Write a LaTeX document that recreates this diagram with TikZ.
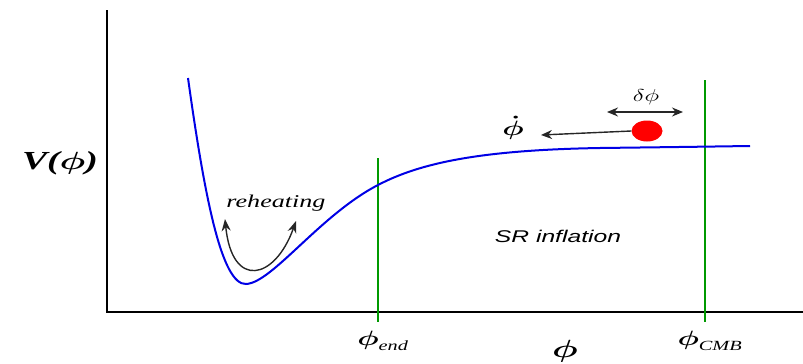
\documentclass[tikz,border=0pt]{standalone}
\usepackage{amsmath}
\usepackage{graphicx}
\usepackage{fontspec}
\setmainfont{Liberation Serif}
\newfontfamily\lsans{Liberation Sans}
\usetikzlibrary{arrows.meta,shapes.geometric}
\newcommand{\wide}[1]{\scalebox{1.45}[1]{#1}}
\begin{document}
\begin{tikzpicture}[x=1pt,y=-1pt,
  axis/.style={line width=2.6pt,black},
  gline/.style={line width=1.7pt,green!60!black},
  pot/.style={line width=2pt,blue!90!black},
  arr/.style={line width=1.4pt,black!85,-{Stealth[length=11pt,width=9pt]}},
  darr/.style={line width=1.4pt,black!85,{Stealth[length=11pt,width=9pt]}-{Stealth[length=11pt,width=9pt]}},
  lbl/.style={inner sep=0pt}]
\useasboundingbox (0,0) rectangle (803,364);
% axes
\coordinate (otop) at (107,10);
\coordinate (o) at (107,312);
\coordinate (xend) at (803,312);
\draw[axis] (otop) -- (o) -- (xend);
% green lines
\coordinate (e1) at (378,158);
\coordinate (e2) at (378,322);
\coordinate (c1) at (705,80);
\coordinate (c2) at (705,322);
\draw[gline] (e1) -- (e2);
\draw[gline] (c1) -- (c2);
% potential
\draw[pot] (188,78) .. controls (205,200) and (222,285) .. (246,284)
  .. controls (272,283) and (320,215) .. (378,185)
  .. controls (420,163) and (480,150) .. (600,148)
  .. controls (680,147) .. (750,146);
% ball
\node[ellipse,fill=red,minimum width=31pt,minimum height=21pt,inner sep=0pt] (ball) at (647,131) {};
\coordinate (dotend) at (541,135);
\draw[arr] (ball.west) -- (dotend);
\node[lbl] (phidot) at (513,128) {\wide{\fontsize{21}{23}\selectfont$\boldsymbol{\dot{\phi}}$}};
% delta phi
\coordinate (dl) at (607,112);
\coordinate (dr) at (683,112);
\draw[darr] (dl) -- (dr);
\node[lbl] (dphi) at (646,97) {\wide{\fontsize{16}{18}\selectfont$\delta\phi$}};
% reheating
\node[lbl] (reh) at (276,203) {\wide{\fontsize{18}{20}\selectfont\itshape reheating}};
\coordinate (ra) at (225,219);
\coordinate (rb) at (296,221);
\draw[line width=1.4pt,black!85,{Stealth[length=12pt,width=9pt]}-{Stealth[length=12pt,width=9pt]}]
  (ra) .. controls (232,290) and (275,280) .. (rb);
% SR inflation
\node[lbl] (sr) at (558,236) {\wide{\fontsize{17}{19}\selectfont\lsans\itshape SR inflation}};
% labels
\node[lbl] (V) at (60,163) {\wide{\fontsize{26}{28}\selectfont\bfseries\itshape V($\boldsymbol{\phi}$)}};
\node[lbl] (pend) at (383,341) {\wide{\fontsize{21}{23}\selectfont$\boldsymbol{\phi}_{\textit{\fontsize{14}{16}\selectfont end}}$}};
\node[lbl] (phi) at (565,351) {\wide{\fontsize{28}{30}\selectfont$\boldsymbol{\phi}$}};
\node[lbl] (pcmb) at (710,341) {\wide{\fontsize{21}{23}\selectfont$\boldsymbol{\phi}_{\textit{\fontsize{14}{16}\selectfont CMB}}$}};
\end{tikzpicture}
\end{document}
